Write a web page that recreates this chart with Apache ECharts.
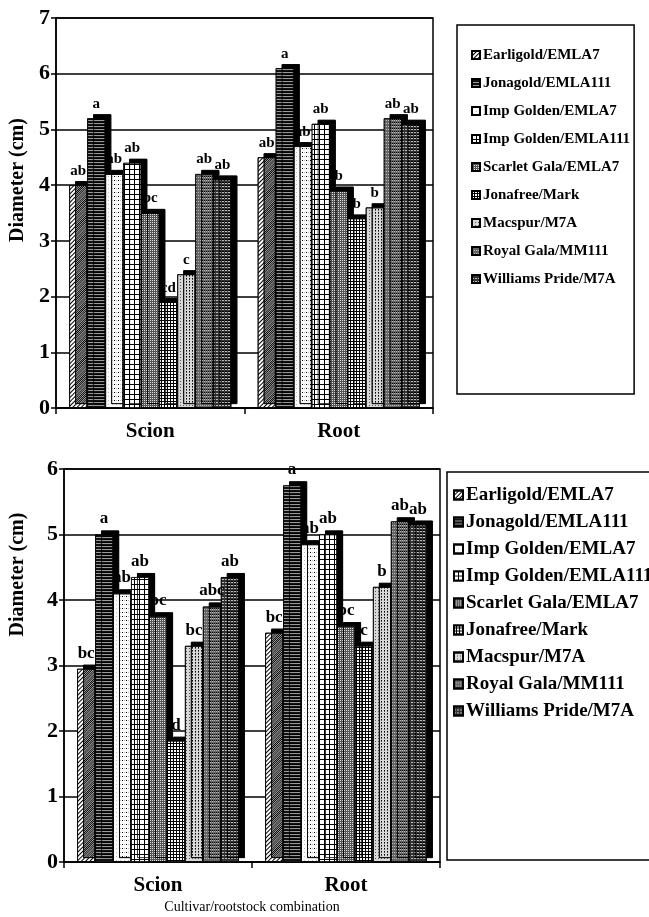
<!DOCTYPE html>
<html>
<head>
<meta charset="utf-8">
<script src="https://cdn.jsdelivr.net/npm/echarts@6/dist/echarts.min.js"></script>
<style>
    html, body {
        margin: 0;
        padding: 0;
        background: #fff;
    }

    #chart {
        width: 649px;
        height: 917px;
    }
</style>
</head>
<body>
<div id="chart"></div>
<script>
const categories = ["Scion", "Root"];
const cultivars = [
    "Earligold/EMLA7", "Jonagold/EMLA111", "Imp Golden/EMLA7",
    "Imp Golden/EMLA111", "Scarlet Gala/EMLA7", "Jonafree/Mark",
    "Macspur/M7A", "Royal Gala/MM111", "Williams Pride/M7A",
];

/** upper panel */
const topScion = [4.0, 5.2, 4.2, 4.4, 3.5, 1.9, 2.4, 4.2, 4.1];
const topRoot = [4.5, 6.1, 4.7, 5.1, 3.9, 3.4, 3.6, 5.2, 5.1];
const topScionLetters = ["ab", "a", "ab", "ab", "bc", "cd", "c", "ab", "ab"];
const topRootLetters = ["ab", "a", "ab", "ab", "b", "b", "b", "ab", "ab"];
const topYMax = 7;

/** lower panel */
const bottomScion = [2.95, 5.0, 4.1, 4.35, 3.75, 1.85, 3.3, 3.9, 4.35];
const bottomRoot = [3.5, 5.75, 4.85, 5.0, 3.6, 3.3, 4.2, 5.2, 5.15];
const bottomScionLetters = ["bc", "a", "ab", "ab", "bc", "d", "bc", "abc", "ab"];
const bottomRootLetters = ["bc", "a", "ab", "ab", "bc", "c", "b", "ab", "ab"];
const bottomYMax = 6;

const serif = "Liberation Serif";

// gray fill + decal pattern for each cultivar, roughly like the print hatching
const fills = [
    { color: "#fff", decal: { color: "#000", dashArrayX: [1, 0], dashArrayY: [1, 2], rotation: -Math.PI / 4 } },
    { color: "#111", decal: { color: "#999", dashArrayX: [1, 0], dashArrayY: [1, 2] } },
    { color: "#fbfbfb", decal: { color: "#bbb", dashArrayX: [1, 3], dashArrayY: [1, 3] } },
    { color: "#000", decal: { color: "#fff", dashArrayX: [4, 1], dashArrayY: [4, 1] } },
    { color: "#555", decal: { color: "#ddd", dashArrayX: [1, 1], dashArrayY: [1, 1] } },
    { color: "#000", decal: { color: "#fff", dashArrayX: [2, 1], dashArrayY: [2, 1] } },
    { color: "#d8d8d8", decal: { color: "#555", dashArrayX: [1, 2], dashArrayY: [1, 2] } },
    { color: "#666", decal: { color: "#bbb", dashArrayX: [1, 1], dashArrayY: [1, 2] } },
    { color: "#333", decal: { color: "#bbb", dashArrayX: [2, 1], dashArrayY: [1, 2] } },
];

function makeSeries(scion, root, scionLetters, rootLetters, axisIndex, fontSize) {
    return cultivars.map((name, i) => ({
        name: name,
        type: "bar",
        xAxisIndex: axisIndex,
        yAxisIndex: axisIndex,
        barGap: 0,
        barCategoryGap: "14%",
        data: [scion[i], root[i]],
        itemStyle: {
            color: fills[i].color,
            decal: Object.assign({ symbol: "rect", symbolSize: 1 }, fills[i].decal),
            borderColor: "#000",
            borderWidth: 0.8,
            // fake 3D side face
            shadowColor: "#000",
            shadowBlur: 0,
            shadowOffsetX: 6,
            shadowOffsetY: -4,
        },
        label: {
            show: true,
            position: "top",
            distance: 7,
            color: "#000",
            fontFamily: serif,
            fontWeight: "bold",
            fontSize: fontSize,
            formatter: (p) => (p.dataIndex === 0 ? scionLetters : rootLetters)[i],
        },
        emphasis: { disabled: true },
    }));
}

function yAxis(gridIndex, max, nameGap, shift) {
    return {
        type: "value",
        gridIndex: gridIndex,
        min: 0,
        max: max,
        interval: 1,
        name: "Diameter (cm)",
        nameLocation: "middle",
        nameGap: nameGap,
        nameTextStyle: {
            color: "#000",
            fontFamily: serif,
            fontWeight: "bold",
            fontSize: 20,
            padding: [0, 0, 0, shift],
        },
        axisLine: { show: true, lineStyle: { color: "#000", width: 1.5 } },
        axisTick: { show: true, length: 5, lineStyle: { color: "#000", width: 1.5 } },
        axisLabel: {
            color: "#000",
            fontFamily: serif,
            fontWeight: "bold",
            fontSize: 22,
            margin: 6,
        },
        splitLine: { show: true, lineStyle: { color: "#000", width: 1.5 } },
    };
}

function xAxis(gridIndex, name) {
    return {
        type: "category",
        gridIndex: gridIndex,
        data: categories,
        name: name,
        nameLocation: "middle",
        nameGap: 38,
        nameTextStyle: {
            color: "#000",
            fontFamily: serif,
            fontSize: 14,
        },
        axisLine: { show: true, lineStyle: { color: "#000", width: 1.5 } },
        axisTick: { show: true, length: 6, lineStyle: { color: "#000", width: 1.5 } },
        axisLabel: {
            color: "#000",
            fontFamily: serif,
            fontWeight: "bold",
            fontSize: 21,
            margin: 13,
        },
    };
}

function legend(top, left, fontSize, lineHeight, gap, padding, icon) {
    return {
        orient: "vertical",
        top: top,
        left: left,
        data: cultivars,
        icon: "rect",
        itemWidth: icon,
        itemHeight: icon,
        itemGap: gap,
        padding: padding,
        borderColor: "#000",
        borderWidth: 1.5,
        selectedMode: false,
        textStyle: {
            color: "#000",
            fontFamily: serif,
            fontWeight: "bold",
            fontSize: fontSize,
            lineHeight: lineHeight,
            padding: [0, 0, 0, -2],
        },
    };
}

const option = {
    animation: false,
    backgroundColor: "#fff",
    grid: [
        { left: 55, right: 216, top: 18, bottom: 509, show: true, borderColor: "#000", borderWidth: 1.5, backgroundColor: "#fff" },
        { left: 63, right: 209, top: 469, bottom: 55, show: true, borderColor: "#000", borderWidth: 1.5, backgroundColor: "#fff" },
    ],
    legend: [
        legend(25, 457, 15, 16, 12, [22, 4, 107, 14], 8),
        legend(472, 447, 19, 20, 7, [13, 4, 139, 6], 9),
    ],
    xAxis: [xAxis(0, ""), xAxis(1, "Cultivar/rootstock combination")],
    yAxis: [yAxis(0, topYMax, 28, 66), yAxis(1, bottomYMax, 36, 182)],
    series: [
        ...makeSeries(topScion, topRoot, topScionLetters, topRootLetters, 0, 15),
        ...makeSeries(bottomScion, bottomRoot, bottomScionLetters, bottomRootLetters, 1, 17),
    ],
};

const chart = echarts.init(document.getElementById("chart"));
chart.setOption(option);
</script>
</body>
</html>
